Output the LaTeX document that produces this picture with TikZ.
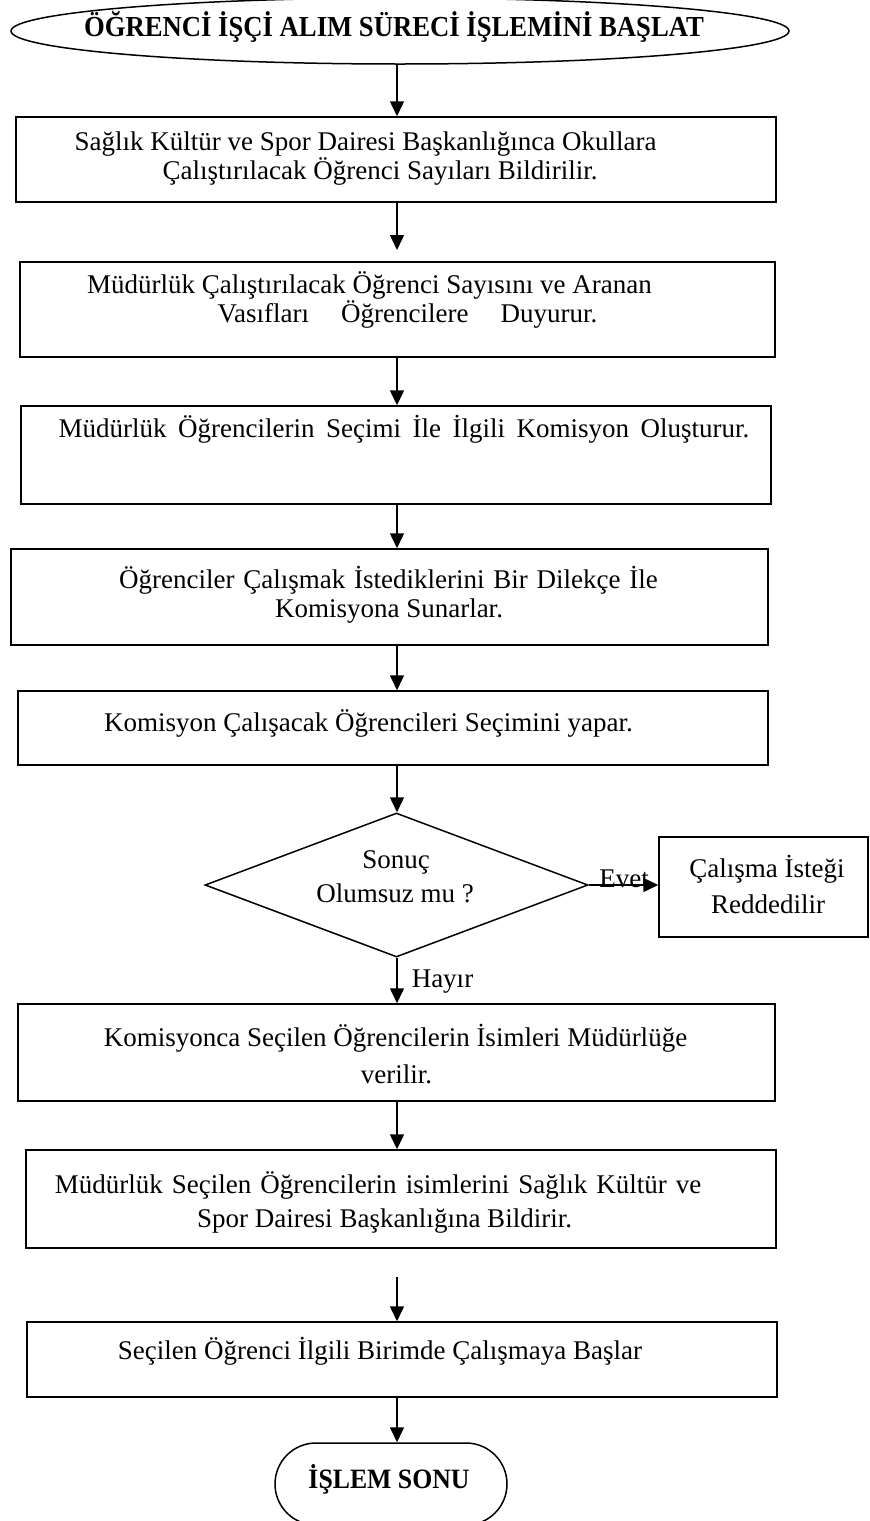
\documentclass[tikz,border=0pt]{standalone}
\usepackage{fontspec}
\setmainfont{Liberation Serif}
\newfontfamily\headfont[FakeStretch=0.92]{Liberation Serif}
\usetikzlibrary{shapes.geometric,arrows.meta}
\begin{document}
\begin{tikzpicture}[x=1pt,y=-1pt,
  box/.style={draw,line width=1.5pt,rectangle,inner sep=0pt},
  txt/.style={anchor=base,inner sep=0pt,font=\fontsize{27}{32}\selectfont},
  btxt/.style={anchor=base,inner sep=0pt,font=\headfont\bfseries},
  arr/.style={line width=1.5pt,-{Triangle[length=15pt,width=14pt]}}]
\useasboundingbox (0,0) rectangle (870,1521);
\clip (0,0) rectangle (870,1521);

% vertical axis of the flow
\coordinate (axis) at (397,0);

% start terminal
\node[draw,line width=1.5pt,ellipse,inner sep=0pt,minimum width=778pt,minimum height=66pt] (start) at (400,31) {};
\node[btxt,font=\headfont\bfseries\fontsize{29}{34}\selectfont] (tstart) at (394,36) {ÖĞRENCİ İŞÇİ ALIM SÜRECİ İŞLEMİNİ BAŞLAT};

% process boxes
\node[box,minimum width=760pt,minimum height=85pt] (b1) at (396,159.5) {};
\node[txt] (t1a) at (365.5,150) {Sağlık Kültür ve Spor Dairesi Başkanlığınca Okullara};
\node[txt] (t1b) at (380,179) {Çalıştırılacak Öğrenci Sayıları Bildirilir.};

\node[box,minimum width=755pt,minimum height=95pt] (b2) at (397.5,309.5) {};
\node[txt] (t2a) at (369.5,293) {Müdürlük Çalıştırılacak Öğrenci Sayısını ve Aranan};
\node[txt] (t2b) at (407.5,322) {\spaceskip=32pt\relax Vasıfları Öğrencilere Duyurur.};

\node[box,minimum width=750pt,minimum height=98pt] (b3) at (396,455) {};
\node[txt] (t3a) at (404,437) {\spaceskip=11.5pt\relax Müdürlük Öğrencilerin Seçimi İle İlgili Komisyon Oluşturur.};

\node[box,minimum width=757pt,minimum height=96pt] (b4) at (389.5,597) {};
\node[txt] (t4a) at (388.5,588) {\spaceskip=8.8pt\relax Öğrenciler Çalışmak İstediklerini Bir Dilekçe İle};
\node[txt] (t4b) at (389,617) {Komisyona Sunarlar.};

\node[box,minimum width=750pt,minimum height=74pt] (b5) at (393,728) {};
\node[txt] (t5a) at (368.5,731) {Komisyon Çalışacak Öğrencileri Seçimini yapar.};

% decision
\node[draw,line width=1.5pt,diamond,inner sep=0pt,minimum width=383pt,minimum height=144pt] (d) at (396.5,885) {};
\node[txt] (tda) at (396,868) {Sonuç};
\node[txt] (tdb) at (395,902) {Olumsuz mu ?};

\node[box,minimum width=209pt,minimum height=100pt] (r) at (763.5,887) {};
\node[txt] (tra) at (767,877) {Çalışma İsteği};
\node[txt] (trb) at (768,913) {Reddedilir};

\node[box,minimum width=757pt,minimum height=97pt] (b6) at (396.5,1052.5) {};
\node[txt] (t6a) at (395.5,1046) {Komisyonca Seçilen Öğrencilerin İsimleri Müdürlüğe};
\node[txt] (t6b) at (396.5,1083) {verilir.};

\node[box,minimum width=750pt,minimum height=98pt] (b7) at (401,1199) {};
\node[txt] (t7a) at (378,1193) {\spaceskip=9pt\relax Müdürlük Seçilen Öğrencilerin isimlerini Sağlık Kültür ve};
\node[txt] (t7b) at (384.5,1227) {Spor Dairesi Başkanlığına Bildirir.};

\node[box,minimum width=750pt,minimum height=75pt] (b8) at (402,1359.5) {};
\node[txt] (t8a) at (380,1359) {Seçilen Öğrenci İlgili Birimde Çalışmaya Başlar};

% end terminal
\node[draw,line width=1.5pt,rectangle,rounded corners=41pt,inner sep=0pt,minimum width=232pt,minimum height=82pt] (end) at (391,1484) {};
\node[btxt,font=\headfont\bfseries\fontsize{28}{33}\selectfont] (tend) at (389,1488) {İŞLEM SONU};

% connectors
\coordinate (tip2) at (397,250);
\coordinate (gap) at (397,1277);
\draw[arr] (start.south -| axis) -- (b1.north -| axis);
\draw[arr] (b1.south -| axis) -- (tip2);
\draw[arr] (b2.south -| axis) -- (b3.north -| axis);
\draw[arr] (b3.south -| axis) -- (b4.north -| axis);
\draw[arr] (b4.south -| axis) -- (b5.north -| axis);
\draw[arr] (b5.south -| axis) -- (d.north -| axis);
\draw[arr] (d.east) -- (d.east -| r.west);
\node[txt] (lyes) at (624,887) {Evet};
\draw[arr] (d.south -| axis) -- (b6.north -| axis);
\node[txt] (lno) at (442.5,987) {Hayır};
\draw[arr] (b6.south -| axis) -- (b7.north -| axis);
\draw[arr] (gap) -- (b8.north -| axis);
\draw[arr] (b8.south -| axis) -- (end.north -| axis);
\end{tikzpicture}
\end{document}
